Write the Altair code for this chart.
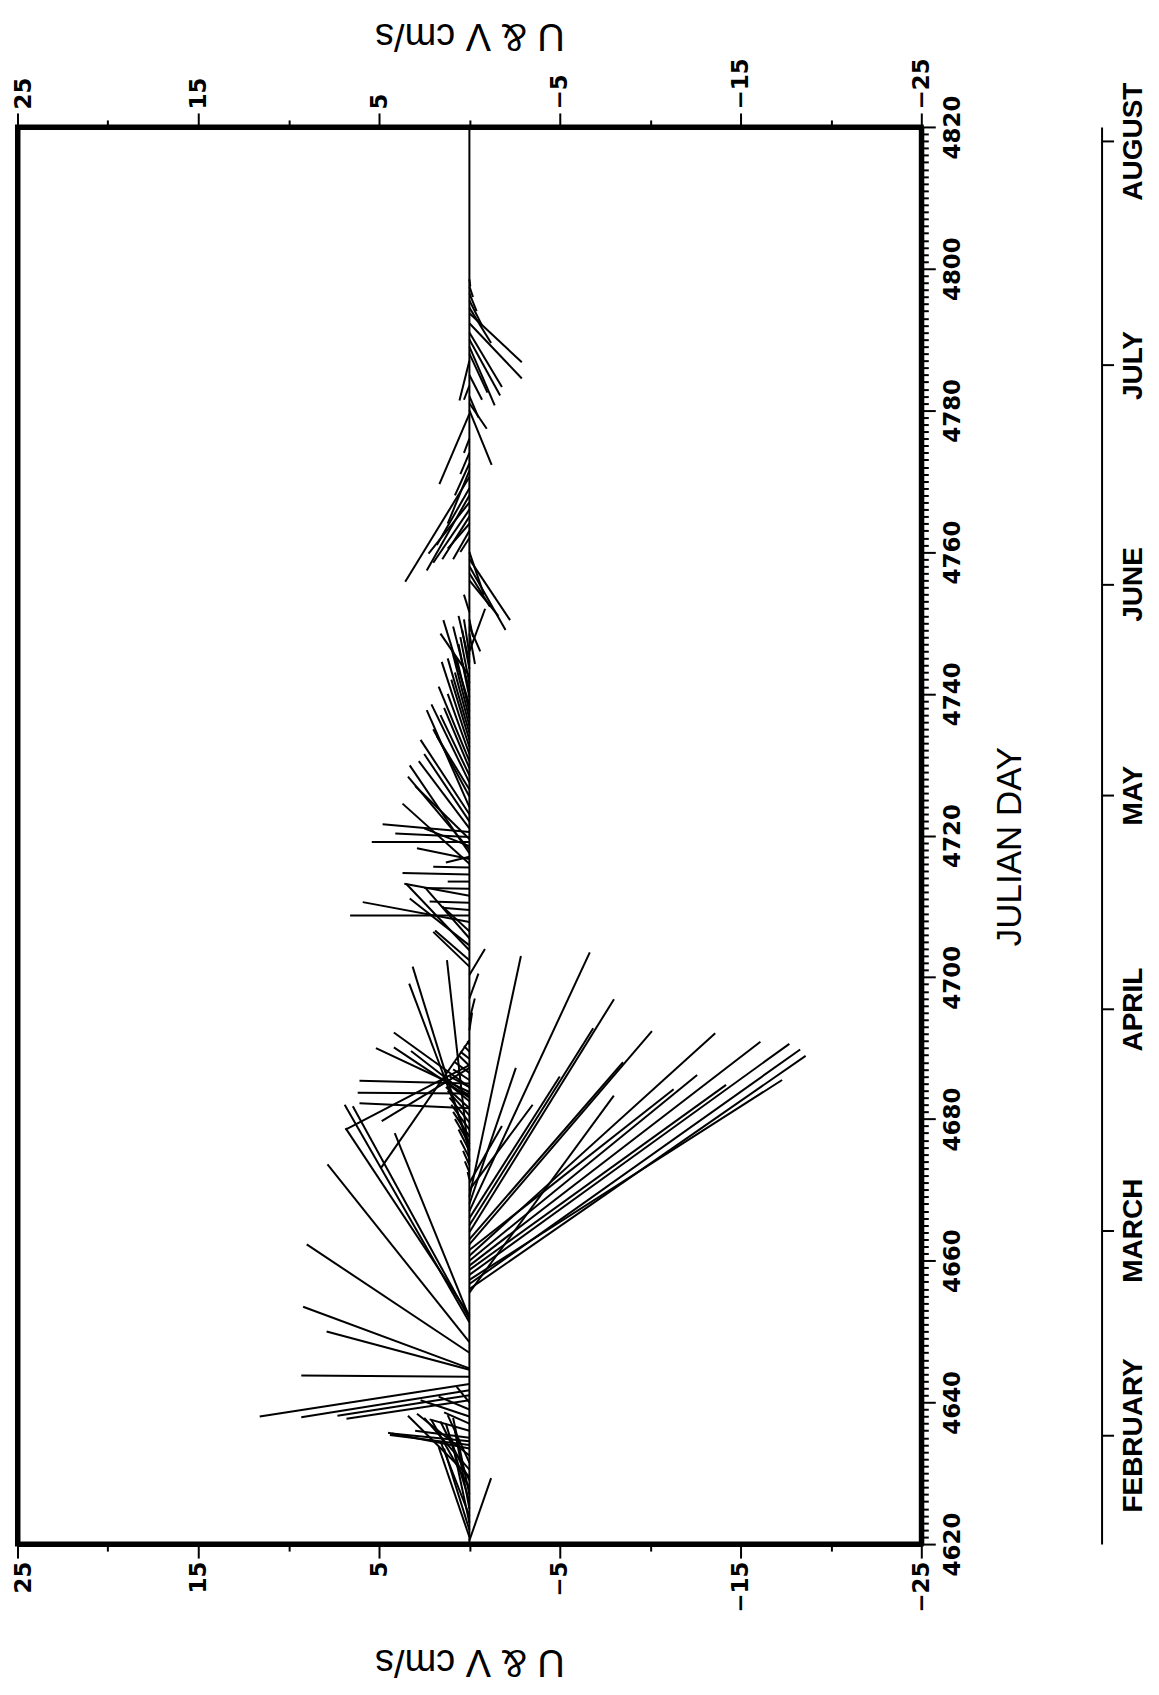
import altair as alt
import pandas as pd

# ---- stick data: base day on the zero line, tip velocity (cm/s), tip position on the day axis ----
base_day = [
    4620.5, 4621.0, 4622.0, 4623.0, 4624.0, 4625.0, 4626.0, 4627.0, 4628.0, 4629.0,
    4629.5, 4630.5, 4631.5, 4632.5, 4633.5, 4634.0, 4634.5, 4635.0, 4636.0, 4637.0,
    4638.0, 4639.0, 4640.0, 4640.3, 4641.0, 4641.7, 4642.6, 4643.6, 4644.6, 4644.8,
    4647.0, 4648.5, 4651.3, 4651.8, 4652.3, 4652.0,
    4655.5, 4656.0, 4656.7, 4657.3, 4658.0, 4658.7, 4659.3, 4660.0, 4660.7, 4661.5,
    4662.3, 4663.0, 4664.0, 4665.0, 4666.0, 4667.0, 4668.0, 4669.0, 4670.0, 4671.0,
    4671.5, 4672.5, 4673.5, 4674.5, 4675.5, 4676.5, 4677.5, 4678.5, 4679.5, 4680.5,
    4681.5, 4682.5, 4684.5, 4685.5, 4686.5, 4687.5, 4688.5, 4689.5, 4690.5,
    4675.6, 4676.5, 4674.0, 4683.0, 4683.2, 4683.6, 4681.5, 4683.8, 4684.5, 4685.0,
    4687.2, 4687.6, 4691.1,
    4692.5, 4694.0, 4697.0, 4700.3,
    4701.5, 4702.4, 4703.8, 4704.5, 4705.5, 4706.5, 4707.8, 4708.7, 4709.5, 4710.5,
    4711.5, 4712.5, 4713.5, 4714.5, 4715.5, 4716.7, 4717.0, 4718.5, 4719.1, 4719.8,
    4720.5,
    4716.0, 4717.5, 4718.0, 4719.5, 4721.0, 4722.0, 4723.0, 4724.0, 4725.5, 4726.5,
    4727.5, 4728.5, 4729.5, 4730.5, 4731.5, 4732.5, 4733.5, 4734.5, 4735.5, 4736.5,
    4737.5, 4738.5, 4739.5, 4740.5, 4741.5, 4742.5, 4743.5, 4744.5, 4745.5, 4748.5,
    4749.5, 4750.5, 4751.5, 4746.0, 4756.0, 4757.0, 4758.0, 4759.0, 4760.0,
    4762.0, 4763.0, 4764.0, 4765.0, 4766.0, 4767.0, 4768.0, 4769.0, 4770.6, 4771.5,
    4772.5, 4774.0, 4776.0, 4779.5, 4780.0, 4781.0, 4782.0, 4783.5, 4785.0, 4787.0,
    4788.0, 4789.0, 4790.0, 4791.0, 4792.3, 4793.7, 4794.5, 4795.5, 4796.5, 4797.5,
    4798.5,
]
tip_vel = [
    -1.2, 1.7, 1.4, 1.0, 1.6, 0.8, 1.3, 0.9, 2.1, 1.6,
    3.4, 2.5, 1.2, 2.9, 4.5, 4.4, 4.3, 3.0, 2.2, 1.4,
    2.7, 1.7, 0.7, 6.8, 7.3, 9.3, 11.6, 9.3, 7.9, 9.2,
    9.0, 7.85, 6.9, 6.45, 6.85, 4.13,
    -7.99, -18.6, -18.3, -17.3, -17.7, -14.2, -16.1, -12.6, -13.6, -11.3,
    -10.1, -8.5, -8.0, -6.85, -5.0, -6.66, -2.57, -2.85, -3.5, -1.8,
    0.1, 0.25, 0.35, 0.5, 0.6, 0.8, 0.9, 1.0, 1.1, 1.2,
    1.3, 1.2, 1.1, 0.9, 0.8, 0.6, 0.5, 0.3, 0.1,
    3.14, 3.33, 1.24, 4.18, 3.23, 6.18, 6.08, 5.17, 4.18, 6.08,
    4.85, 6.85, 4.89,
    -0.15, -0.3, -0.5, -0.86,
    2.0, 1.9, 3.5, 3.3, 2.4, 1.5, 5.9, 6.6, 1.5, 2.2,
    3.6, 2.5, 1.2, 3.7, 2.0, 2.9, 1.3, 2.5, 5.4, 4.1,
    4.8,
    3.7, 3.3, 3.4, 3.0, 2.8, 2.5, 2.7, 2.36, 2.0, 1.8,
    2.1, 1.6, 1.4, 1.7, 1.2, 1.53, 1.0, 1.2, 0.8, 1.0,
    0.7, 1.44, 0.6, 0.9, 0.5, 1.6, 0.4, 0.6, 0.3, -0.31,
    -0.6, -0.2, 0.3, -0.87, -1.6, -1.14, -2.0, -2.25, -0.8,
    0.5, 0.9, 1.2, 1.5, 2.0, 2.26, 2.36, 1.8, 3.55, 1.2,
    0.8, 0.5, 0.3, 1.66, -1.23, -0.96, -0.5, 0.3, -0.7, 0.55,
    -1.0, -1.4, -1.7, -1.8, -2.9, -2.9, -1.2, -0.7, -0.4, -0.2,
    -0.05,
]
tip_day = [
    4629.3, 4633.7, 4633.5, 4635.0, 4634.5, 4636.0, 4637.0, 4637.8, 4637.5, 4637.3,
    4638.1, 4637.8, 4638.2, 4638.4, 4635.7, 4635.4, 4635.6, 4636.0, 4637.6, 4638.6,
    4640.3, 4640.8, 4642.2, 4637.7, 4638.1, 4637.9, 4638.0, 4643.8, 4650.0, 4653.5,
    4662.3, 4673.6, 4682.0, 4681.8, 4678.7, 4678.0,
    4683.3, 4688.9, 4689.8, 4685.5, 4690.6, 4684.8, 4690.9, 4686.2, 4692.1, 4684.2,
    4692.4, 4688.0, 4696.9, 4692.8, 4686.0, 4703.5, 4687.2, 4703.0, 4682.0, 4679.0,
    4672.5, 4674.0, 4675.5, 4677.0, 4678.5, 4680.0, 4681.0, 4682.0, 4683.0, 4684.0,
    4684.5, 4685.0, 4686.0, 4687.0, 4688.0, 4689.0, 4689.5, 4690.3, 4691.0,
    4701.5, 4699.1, 4702.4, 4690.1, 4689.6, 4683.7, 4682.2, 4690.0, 4692.2, 4685.4,
    4679.7, 4678.5, 4673.1,
    4695.0, 4697.0, 4700.5, 4704.0,
    4706.4, 4706.6, 4713.2, 4711.1, 4712.5, 4710.0, 4710.6, 4708.7, 4709.8, 4710.7,
    4713.2, 4712.6, 4713.5, 4714.7, 4715.6, 4718.2, 4716.2, 4721.0, 4719.1, 4720.3,
    4721.6,
    4724.5, 4729.9, 4728.3, 4727.0, 4730.5, 4731.5, 4733.5, 4737.7, 4735.0, 4734.0,
    4738.5, 4737.0, 4738.0, 4741.0, 4740.0, 4744.5, 4742.0, 4745.0, 4743.0, 4746.5,
    4745.0, 4750.4, 4747.0, 4749.5, 4748.0, 4748.5, 4749.0, 4751.0, 4750.5, 4744.2,
    4746.0, 4748.0, 4754.0, 4752.0, 4751.0, 4752.3, 4749.0, 4750.4, 4754.0,
    4760.0, 4759.0, 4760.5, 4759.0, 4758.5, 4759.8, 4757.4, 4761.0, 4755.8, 4764.0,
    4768.0, 4771.0, 4774.0, 4769.6, 4772.3, 4777.4, 4779.0, 4781.5, 4781.5, 4781.4,
    4782.5, 4780.7, 4782.1, 4783.3, 4784.5, 4786.8, 4789.5, 4792.0, 4794.0, 4796.0,
    4797.5,
]

# zero line of the stick plot
line_vel = [0.0]
line_start = [4620]
line_end = [4820]

# month scale beside the plot
month_names = ["FEBRUARY", "MARCH", "APRIL", "MAY", "JUNE", "JULY", "AUGUST"]
month_days = [4635.4, 4664.3, 4695.5, 4725.7, 4755.5, 4786.4, 4818.0]

# axis ticks
vel_ticks = [-25, -20, -15, -10, -5, 0, 5, 10, 15, 20, 25]
day_ticks = list(range(4620, 4821))
left_ticks = list(range(4620, 4821, 5))

sticks = pd.DataFrame({
    "day": base_day,
    "zero": [0.0] * len(base_day),
    "vel": tip_vel,
    "tipday": tip_day,
})
zero_line = pd.DataFrame({"vel": line_vel, "d0": line_start, "d1": line_end})
months = pd.DataFrame({"month": month_names, "day": month_days})

W, H = 905, 1419

xscale = alt.Scale(domain=[-25, 25], reverse=True, nice=False, zero=False)
yscale = alt.Scale(domain=[4620, 4820], nice=False, zero=False)

vel_label = "abs(datum.value) % 10 == 5 ? datum.label : ''"
vel_tick = {"condition": {"test": "abs(datum.value) % 10 == 5", "value": 14}, "value": 7}
edge_shift = {"condition": {"test": "datum.value == 25", "value": 6}, "value": 0}
axis_title = "U  & V cm/s"

bottom_axis = alt.Axis(
    orient="bottom", values=vel_ticks, labelExpr=vel_label, tickSize=vel_tick,
    labelAngle=270, labelAlign="right", labelBaseline="middle", labelPadding=3,
    labelOffset=edge_shift,
    labelFlush=False, labelOverlap=False, domainWidth=5,
    title=axis_title, titleAngle=180, titleBaseline="alphabetic", titleAlign="center",
    titleX=W / 2, titleY=106, titleFont="Liberation Sans", titleFontSize=38,
    titleFontWeight="normal",
)
top_axis = alt.Axis(
    orient="top", values=vel_ticks, labelExpr=vel_label, tickSize=vel_tick,
    labelAngle=270, labelAlign="left", labelBaseline="middle", labelPadding=4,
    labelOffset=edge_shift,
    labelFlush=False, labelOverlap=False, domainWidth=5,
    title=axis_title, titleAngle=180, titleBaseline="alphabetic", titleAlign="center",
    titleX=W / 2, titleY=-104, titleFont="Liberation Sans", titleFontSize=38,
    titleFontWeight="normal",
)
left_axis = alt.Axis(
    orient="left", values=left_ticks, labels=False, title=None, tickSize=3,
    domainWidth=5,
)
right_axis = alt.Axis(
    orient="right", values=day_ticks, format="d",
    labelExpr="datum.value % 20 == 0 ? datum.label : ''",
    tickSize={"condition": {"test": "datum.value % 20 == 0", "value": 14}, "value": 7},
    labelAngle=270, labelAlign="center", labelBaseline="top", labelPadding=6,
    labelFlush=False, labelOverlap=False, domainWidth=5,
    title="JULIAN DAY", titleAngle=270, titleBaseline="alphabetic", titleAlign="center",
    titleX=99, titleY=720, titleFont="Liberation Sans", titleFontSize=35,
    titleFontWeight="normal",
)

month_expr = " : ".join(
    f"datum.value == {d} ? '{m}'" for d, m in zip(month_days, month_names)
) + " : ''"
month_axis = alt.Axis(
    orient="right", offset=180.5, values=month_days, labelExpr=month_expr,
    tickSize=12, labelAngle=270, labelAlign="center", labelBaseline="top",
    labelPadding=6, labelFont="Liberation Sans", labelFontSize=28,
    labelFontWeight="bold", labelFlush=False, labelOverlap=False,
    domainWidth=2, title=None,
)

stick_layer = alt.Chart(sticks).mark_rule(color="black", strokeWidth=2).encode(
    x=alt.X("zero:Q", scale=xscale, axis=bottom_axis),
    x2="vel:Q",
    y=alt.Y("day:Q", scale=yscale, axis=left_axis),
    y2="tipday:Q",
)
line_layer = alt.Chart(zero_line).mark_rule(color="black", strokeWidth=2).encode(
    x=alt.X("vel:Q", scale=xscale, axis=top_axis),
    y=alt.Y("d0:Q", scale=yscale, axis=right_axis),
    y2="d1:Q",
)
month_layer = alt.Chart(months).mark_point(opacity=0).encode(
    y=alt.Y("day:Q", scale=yscale, axis=month_axis),
)

chart = (
    alt.layer(stick_layer, line_layer, month_layer)
    .resolve_scale(x="independent", y="independent")
    .properties(
        width=W, height=H,
        padding={"left": 9.5, "top": 118, "right": 230, "bottom": 140},
        autosize=alt.AutoSizeParams(type="none"),
    )
    .configure_view(stroke="black", strokeWidth=5)
    .configure_axis(
        labelFont="DejaVu Sans", labelFontWeight="bold", labelFontSize=23,
        labelColor="black", tickColor="black", domainColor="black",
        tickWidth=2, grid=False, titleColor="black",
    )
)

chart.save("out.html", embed_options={"renderer": "svg", "actions": False})
